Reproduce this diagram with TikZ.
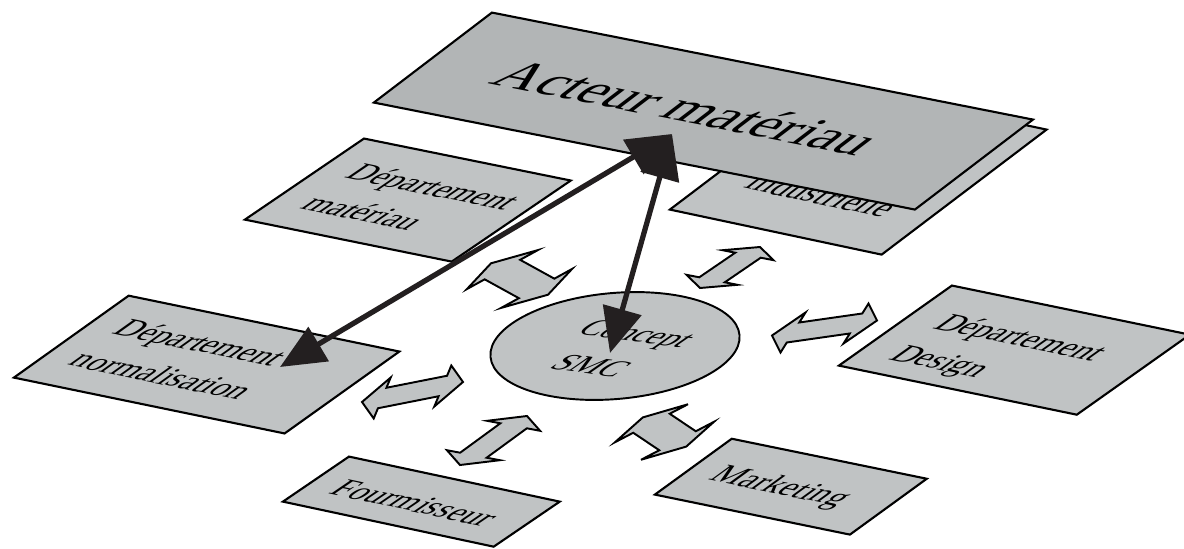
\documentclass[tikz,border=0pt]{standalone}
\usepackage{fontspec}
\setmainfont{Liberation Serif}
\usetikzlibrary{arrows.meta,shapes.geometric}
\definecolor{panelGray}{RGB}{192,195,196}
\definecolor{acteurGray}{RGB}{178,181,182}
\definecolor{arrowBlack}{RGB}{35,31,32}

\begin{document}
\begin{tikzpicture}[
    panel/.style={draw, line width=1.2pt, fill=panelGray, transform shape, anchor=south west, inner sep=0pt},
    paneltext/.style={transform shape, yscale=#1, inner sep=0pt, align=left, anchor=base west, font=\fontsize{18}{25.6}\selectfont},
    paneltext/.default=1.2,
    flatarrow/.style={draw, line width=1.1pt, fill=panelGray},
    bigarrow/.style={<->, >={Triangle[length=9mm,width=7.8mm]}, line width=3pt, color=arrowBlack},
    twoway/.pic={\path[flatarrow] (-1,0) -- (-0.6,1) -- (-0.6,0.5) -- (0.6,0.5) -- (0.6,1) -- (1,0) -- (0.6,-1) -- (0.6,-0.5) -- (-0.6,-0.5) -- (-0.6,-1) -- cycle;}
]
\useasboundingbox (0,0) rectangle (23.68,10.96);

% Departement materiau
\begin{scope}[cm={0.980,-0.199,0.827,0.563,(4.86,6.56)}]
    \node[panel, minimum width=4.22cm, minimum height=2.88cm] (materiau) at (0,0) {};
    \node[paneltext] (materiauText) at (0.60,0.63) {Département\\matériau};
\end{scope}

% Departement normalisation
\begin{scope}[cm={0.979,-0.202,0.814,0.581,(0.24,3.40)}]
    \node[panel, minimum width=5.53cm, minimum height=2.82cm] (normalisation) at (0,0) {};
    \node[paneltext] (normalisationText) at (0.57,0.65) {Département\\normalisation};
\end{scope}

% Departement Design
\begin{scope}[cm={0.979,-0.202,0.816,0.578,(16.74,3.64)}]
    \node[panel, minimum width=4.86cm, minimum height=2.77cm] (design) at (0,0) {};
    \node[paneltext] (designText) at (0.64,0.46) {Département\\Design};
\end{scope}

% Fournisseur
\begin{scope}[cm={0.978,-0.209,0.826,0.563,(5.62,0.92)}]
    \node[panel, minimum width=4.31cm, minimum height=1.60cm] (fournisseur) at (0,0) {};
    \node[paneltext, anchor=base] (fournisseurText) at (2.11,0.50) {Fourmisseur};
\end{scope}

% Marketing
\begin{scope}[cm={0.980,-0.201,0.809,0.588,(13.06,1.06)}]
    \node[panel, minimum width=3.98cm, minimum height=1.90cm] (marketing) at (0,0) {};
    \node[paneltext, anchor=base] (marketingText) at (1.85,0.70) {Marketing};
\end{scope}

% industrielle (behind the actor)
\begin{scope}[cm={0.978,-0.208,0.797,0.604,(13.36,6.76)}]
    \node[panel, minimum width=4.33cm, minimum height=4.14cm] (industrie) at (0,0) {};
    \node[paneltext] (industrieText) at (0.72,0.98) {industrielle};
\end{scope}

% Acteur materiau
\begin{scope}[cm={0.981,-0.194,0.795,0.606,(7.44,8.90)}]
    \node[panel, fill=acteurGray, minimum width=11.03cm, minimum height=2.97cm] (acteur) at (0,0) {};
    \node[paneltext=1.0, font=\fontsize{33}{40}\selectfont] (acteurText) at (1.45,1.12) {Acteur matériau};
\end{scope}

% Concept SMC
\node[draw, ellipse, line width=1.1pt, fill=panelGray, minimum width=5cm, minimum height=2.12cm, rotate=5, inner sep=0pt] (concept) at (12.3,4.04) {};
\node[font=\fontsize{18}{27}\selectfont, align=center, anchor=base, inner sep=0pt, cm={0.99,-0.14,0.98,0.68,(0,0)}] (conceptText) at (11.62,3.50) {Concept\\SMC};

% Exchanges with the concept
\pic[cm={0.57,-0.314,0.71,0.39,(10.39,5.38)}] at (0,0) {twoway};
\pic[cm={0.60,0.41,0.51,-0.10,(14.60,5.61)}] at (0,0) {twoway};
\pic[cm={1.05,0.15,0.25,0.40,(16.49,4.40)}] at (0,0) {twoway};
\pic[cm={1.01,0.20,0.17,0.41,(8.25,3.12)}] at (0,0) {twoway};
\pic[cm={0.67,0.49,0.53,-0.10,(9.87,2.15)}] at (0,0) {twoway};
\pic[cm={0.434,-0.292,0.73,0.38,(13.29,2.32)}] at (0,0) {twoway};

% Links of the actor
\coordinate (acteurTip) at (13.44,8.28);
\coordinate (normTip) at (5.60,3.62);
\coordinate (conceptTip) at (12.20,3.90);
\draw[bigarrow] (acteurTip) -- (normTip);
\draw[bigarrow] (acteurTip) -- (conceptTip);
\end{tikzpicture}
\end{document}
